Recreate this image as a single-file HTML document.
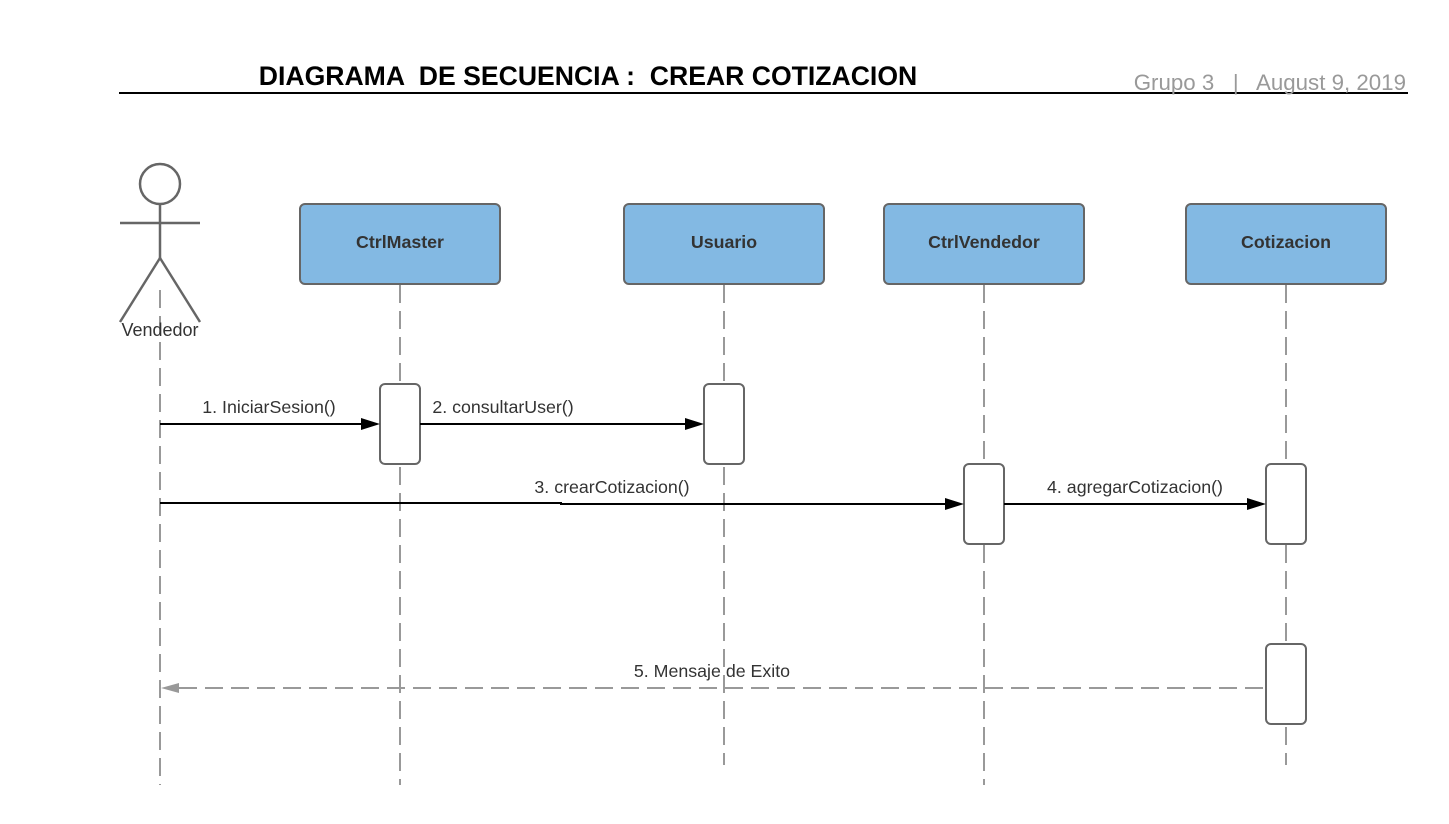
<!DOCTYPE html>
<html><head><meta charset="utf-8"><style>
html,body{margin:0;padding:0;background:#fff;}
svg{display:block;font-family:"Liberation Sans",Arial,sans-serif;}
</style></head><body>
<svg width="1449" height="824" viewBox="0 0 1449 824" xmlns="http://www.w3.org/2000/svg">
<text x="588" y="85" text-anchor="middle" font-size="26.6" font-weight="bold" fill="#000" xml:space="preserve">DIAGRAMA  DE SECUENCIA :  CREAR COTIZACION</text>
<line x1="119" y1="93" x2="1408" y2="93" stroke="#000" stroke-width="2"/>
<text x="1406" y="90" text-anchor="end" font-size="22.3" fill="#999" xml:space="preserve">Grupo 3   |   August 9, 2019</text>
<g stroke="#999" stroke-width="2" stroke-dasharray="18,8" fill="none">
<line x1="160" y1="290" x2="160" y2="785"/>
<line x1="400" y1="285" x2="400" y2="785"/>
<line x1="724" y1="285" x2="724" y2="765"/>
<line x1="984" y1="285" x2="984" y2="785"/>
<line x1="1286" y1="285" x2="1286" y2="765"/>
</g>
<g stroke="#666" stroke-width="2.5" fill="none">
<circle cx="160" cy="184" r="20" fill="#fff"/>
<line x1="160" y1="204" x2="160" y2="258"/>
<line x1="120" y1="223" x2="200" y2="223"/>
<line x1="160" y1="258" x2="120" y2="322"/>
<line x1="160" y1="258" x2="200" y2="322"/>
</g>
<text x="160" y="336" text-anchor="middle" font-size="18" fill="#333">Vendedor</text>
<g stroke="#666" stroke-width="2" fill="#83b9e3">
<rect x="300" y="204" width="200" height="80" rx="5"/>
<rect x="624" y="204" width="200" height="80" rx="5"/>
<rect x="884" y="204" width="200" height="80" rx="5"/>
<rect x="1186" y="204" width="200" height="80" rx="5"/>
</g>
<g font-size="17.8" font-weight="bold" fill="#333" text-anchor="middle">
<text x="400" y="248">CtrlMaster</text>
<text x="724" y="248">Usuario</text>
<text x="984" y="248">CtrlVendedor</text>
<text x="1286" y="248">Cotizacion</text>
</g>
<g stroke="#666" stroke-width="2" fill="#fff">
<rect x="380" y="384" width="40" height="80" rx="5"/>
<rect x="704" y="384" width="40" height="80" rx="5"/>
<rect x="964" y="464" width="40" height="80" rx="5"/>
<rect x="1266" y="464" width="40" height="80" rx="5"/>
<rect x="1266" y="644" width="40" height="80" rx="5"/>
</g>
<g stroke="#000" stroke-width="2" fill="none">
<line x1="160" y1="424" x2="362" y2="424"/>
<line x1="420" y1="424" x2="686" y2="424"/>
<polyline points="160,503 561,503 561,504 946,504"/>
<line x1="1004" y1="504" x2="1248" y2="504"/>
</g>
<g fill="#000">
<path d="M380,424 L361,418 L361,430 Z"/>
<path d="M704,424 L685,418 L685,430 Z"/>
<path d="M964,504 L945,498 L945,510 Z"/>
<path d="M1266,504 L1247,498 L1247,510 Z"/>
</g>
<line x1="179" y1="688" x2="1266" y2="688" stroke="#999" stroke-width="2" stroke-dasharray="18,8"/>
<path d="M161,688 L179,683 L179,693 Z" fill="#999"/>
<g font-size="17.8" fill="#333" text-anchor="middle">
<text x="269" y="413">1. IniciarSesion()</text>
<text x="503" y="413">2. consultarUser()</text>
<text x="612" y="493">3. crearCotizacion()</text>
<text x="1135" y="493">4. agregarCotizacion()</text>
<text x="712" y="677">5. Mensaje de Exito</text>
</g>
</svg>
</body></html>
